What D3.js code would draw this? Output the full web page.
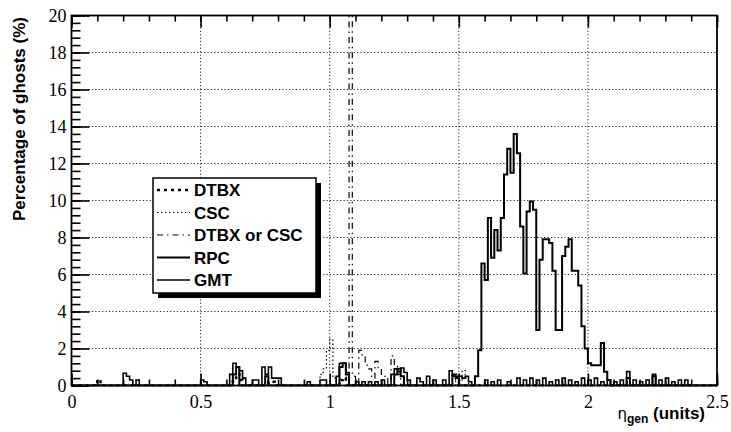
<!DOCTYPE html>
<html><head><meta charset="utf-8">
<script src="https://cdn.jsdelivr.net/npm/d3@7"></script>
<style>body{margin:0;background:#fff} svg{display:block}</style>
</head><body>
<svg id="chart" width="731" height="432"></svg>
<script>
// ---------------- data ----------------
const xTicks = [0, 0.5, 1, 1.5, 2, 2.5];
const xTickLabels = ["0", "0.5", "1", "1.5", "2", "2.5"];
const yTicks = [0, 2, 4, 6, 8, 10, 12, 14, 16, 18, 20];
const yTickLabels = ["0", "2", "4", "6", "8", "10", "12", "14", "16", "18", "20"];
const seriesNames = ["DTBX", "CSC", "DTBX or CSC", "RPC", "GMT"];
const binWidth = 0.0125;   // 200 bins over 0 - 2.5
const nBins = 200;

const dtbxEta = [0.1, 0.625, 0.6375, 0.65, 0.7625, 0.775, 1.0375, 1.05];
const dtbxVal = [0.3, 0.3, 0.6, 0.3, 0.2, 0.2, 0.3, 0.4];

const cscEta = [0.9625, 0.975, 0.9875, 1.0, 1.0125, 1.4875, 1.5, 1.5125, 1.525];
const cscVal = [0.6, 0.9, 1.9, 2.5, 0.4, 0.6, 0.5, 0.8, 0.4];

const orEta = [1.075, 1.0875, 1.1125, 1.125, 1.1375, 1.15, 1.1625, 1.175, 1.1875, 1.2, 1.2125, 1.2375, 1.25, 1.2625, 1.4875, 1.5];
const orVal = [32, 0.5, 1.9, 1.6, 1.1, 0.9, 0.4, 1.3, 0.9, 0.6, 0.5, 1.6, 1.1, 0.6, 0.4, 0.3];

const rpcEta = [0.625, 0.6375, 0.75, 1.0375, 1.05, 1.0625, 1.25, 1.2625, 1.275, 1.475, 1.4875,
  1.5625, 1.575, 1.5875, 1.6, 1.6125, 1.625, 1.6375, 1.65, 1.6625, 1.675,
  1.6875, 1.7, 1.7125, 1.725, 1.7375, 1.75, 1.7625, 1.775, 1.7875, 1.8,
  1.8125, 1.825, 1.8375, 1.85, 1.8625, 1.875, 1.8875, 1.9, 1.9125, 1.925,
  1.9375, 1.95, 1.9625, 1.975, 1.9875, 2.0, 2.0125, 2.025, 2.0375, 2.05,
  2.0625, 2.075, 2.15, 2.25];
const rpcVal = [0.6, 1.0, 0.5, 1.0, 1.2, 0.6, 0.6, 0.9, 0.5, 0.6, 0.4,
  0.5, 1.9, 6.6, 5.7, 9.05, 6.9, 8.4, 7.3, 9.05, 11.4,
  12.8, 11.5, 13.6, 12.55, 8.6, 6.06, 9.4, 9.94, 9.5, 3.0,
  6.8, 7.9, 7.9, 7.7, 6.2, 3.0, 3.0, 7.0, 7.5, 7.9,
  6.2, 6.2, 5.4, 3.2, 2.0, 1.2, 1.1, 1.1, 1.1, 2.3,
  0.75, 0.3, 0.4, 0.5];

const gmtEta = [0.2, 0.2125, 0.225, 0.25, 0.5, 0.5125, 0.6125, 0.625, 0.6375, 0.65,
  0.6625, 0.7, 0.7125, 0.7375, 0.75, 0.7625, 0.775, 0.7875, 0.8, 0.9125,
  0.9625, 0.975, 1.025, 1.0375, 1.05, 1.0625, 1.1, 1.125, 1.15, 1.175,
  1.2, 1.2375, 1.25, 1.2625, 1.275, 1.2875, 1.3, 1.3375, 1.35, 1.375,
  1.4, 1.4375, 1.4625, 1.475, 1.4875, 1.5, 1.5125, 1.525, 1.5375, 1.6,
  1.625, 1.65, 1.6875, 1.725, 1.75, 1.775, 1.8, 1.825, 1.85, 1.875,
  1.9, 1.925, 1.95, 1.975, 2.0, 2.025, 2.05, 2.075, 2.1, 2.125,
  2.15, 2.175, 2.2, 2.225, 2.25, 2.275, 2.3, 2.325, 2.35, 2.375];
const gmtVal = [0.66, 0.5, 0.3, 0.3, 0.3, 0.2, 0.6, 1.2, 1.0, 0.8,
  0.4, 0.3, 0.3, 1.0, 0.6, 1.0, 0.4, 0.4, 0.4, 0.2,
  0.3, 0.3, 0.5, 1.2, 1.2, 0.7, 0.2, 0.2, 0.2, 0.2,
  0.3, 0.6, 0.9, 0.75, 0.95, 0.7, 0.3, 0.4, 0.2, 0.5,
  0.3, 0.3, 0.8, 0.5, 0.5, 0.5, 0.4, 0.5, 0.2, 0.3,
  0.2, 0.3, 0.2, 0.4, 0.3, 0.4, 0.3, 0.4, 0.2, 0.3,
  0.4, 0.3, 0.2, 0.4, 0.3, 0.4, 0.2, 0.3, 0.2, 0.3,
  0.75, 0.3, 0.2, 0.3, 0.6, 0.3, 0.4, 0.2, 0.3, 0.3];

// ---------------- drawing ----------------
const svg = d3.select("#chart");
const x = d3.scaleLinear().domain([0, 2.5]).range([71.5, 717]);
const y = d3.scaleLinear().domain([0, 20]).range([385.5, 15.5]);

const styles = {
  "DTBX":        {w: 2.6, dash: "3,4"},
  "CSC":         {w: 1.2, dash: "1.4,2.6"},
  "DTBX or CSC": {w: 1.2, dash: "6,4,1.5,4"},
  "RPC":         {w: 2.0, dash: null},
  "GMT":         {w: 1.6, dash: null}
};

function fillBins(etas, vals) {
  const arr = new Array(nBins).fill(0);
  d3.zip(etas, vals).forEach(([e, v]) => { arr[Math.round(e / binWidth)] = v; });
  return arr;
}
const histos = {
  "DTBX": fillBins(dtbxEta, dtbxVal),
  "CSC": fillBins(cscEta, cscVal),
  "DTBX or CSC": fillBins(orEta, orVal),
  "RPC": fillBins(rpcEta, rpcVal),
  "GMT": fillBins(gmtEta, gmtVal)
};

svg.append("defs").append("clipPath").attr("id", "plotclip")
  .append("rect").attr("x", x(0)).attr("y", y(20))
  .attr("width", x(2.5) - x(0)).attr("height", y(0) - y(20) + 1);

// grid
const grid = svg.append("g").attr("stroke", "#222").attr("stroke-width", 1)
  .attr("stroke-dasharray", "1.2,2.2");
grid.selectAll("line.gy").data(yTicks.filter(t => t > 0 && t < 20)).join("line")
  .attr("x1", x(0)).attr("x2", x(2.5)).attr("y1", d => y(d)).attr("y2", d => y(d));
grid.selectAll("line.gx").data(xTicks.filter(t => t > 0 && t < 2.5)).join("line")
  .attr("y1", y(0)).attr("y2", y(20)).attr("x1", d => x(d)).attr("x2", d => x(d));

// histograms
const line = d3.line().x(d => x(d[0])).y(d => y(d[1])).curve(d3.curveStepAfter);
const plot = svg.append("g").attr("clip-path", "url(#plotclip)");
["GMT", "DTBX", "CSC", "DTBX or CSC", "RPC"].forEach(name => {
  const h = histos[name];
  const pts = h.map((v, i) => [i * binWidth, v]);
  pts.push([2.5, h[nBins - 1]]);
  const s = styles[name];
  plot.append("path").attr("d", line(pts)).attr("fill", "none")
    .attr("stroke", "#000").attr("stroke-width", s.w)
    .attr("stroke-dasharray", s.dash).attr("stroke-linejoin", "miter");
});

// axes
const yMinor = d3.range(0, 20.001, 0.4);
const xMinor = d3.range(0, 2.5001, 0.1);
const tickFont = "'Liberation Serif', 'Times New Roman', serif";

const yAxisMinor = d3.axisLeft(y).tickValues(yMinor).tickSize(-9).tickFormat("");
const yAxisMajor = d3.axisLeft(y).tickValues(yTicks).tickSize(-18).tickPadding(5)
  .tickFormat((d, i) => yTickLabels[i]);
const gY1 = svg.append("g").attr("transform", `translate(${x(0)},0)`).call(yAxisMinor);
const gY2 = svg.append("g").attr("transform", `translate(${x(0)},0)`).call(yAxisMajor);

const xAxisMinorB = d3.axisBottom(x).tickValues(xMinor).tickSize(-6).tickFormat("");
const xAxisMajorB = d3.axisBottom(x).tickValues(xTicks).tickSize(-12).tickPadding(10)
  .tickFormat((d, i) => xTickLabels[i]);
const gX1 = svg.append("g").attr("transform", `translate(0,${y(0)})`).call(xAxisMinorB);
const gX2 = svg.append("g").attr("transform", `translate(0,${y(0)})`).call(xAxisMajorB);
const xAxisMinorT = d3.axisTop(x).tickValues(xMinor).tickSize(-6).tickFormat("");
const xAxisMajorT = d3.axisTop(x).tickValues(xTicks).tickSize(-12).tickFormat("");
const gX3 = svg.append("g").attr("transform", `translate(0,${y(20)})`).call(xAxisMinorT);
const gX4 = svg.append("g").attr("transform", `translate(0,${y(20)})`).call(xAxisMajorT);

[gY1, gY2, gX1, gX2, gX3, gX4].forEach(g => {
  g.select(".domain").remove();
  g.selectAll(".tick line").attr("stroke", "#000").attr("stroke-width", 1.6);
  g.selectAll("text").attr("fill", "#000").style("font-family", tickFont).style("font-size", "18px");
});

// frame
svg.append("rect").attr("x", x(0)).attr("y", y(20))
  .attr("width", x(2.5) - x(0)).attr("height", y(0) - y(20))
  .attr("fill", "none").attr("stroke", "#000").attr("stroke-width", 1.8);

// axis titles
const sansBold = "'Liberation Sans', Arial, Helvetica, sans-serif";
svg.append("text").attr("transform", `translate(25,17) rotate(-90)`)
  .attr("text-anchor", "end").style("font-family", sansBold)
  .style("font-weight", "bold").style("font-size", "17px")
  .text("Percentage of ghosts (%)");

const xt = svg.append("text").attr("x", 705).attr("y", 419).attr("text-anchor", "end")
  .style("font-family", sansBold).style("font-size", "17px");
xt.append("tspan").style("font-family", "'DejaVu Sans', sans-serif").style("font-size", "15px").text("η");
xt.append("tspan").attr("dy", 4).style("font-size", "12px").style("font-weight", "bold").text("gen");
xt.append("tspan").attr("dy", -4).style("font-weight", "bold").text(" (units)");

// legend
const lg = svg.append("g");
const lx = 153, ly = 178, lw = 163, lh = 115;
lg.append("rect").attr("x", lx + 5).attr("y", ly + 5).attr("width", lw).attr("height", lh).attr("fill", "#000");
lg.append("rect").attr("x", lx).attr("y", ly).attr("width", lw).attr("height", lh)
  .attr("fill", "#fff").attr("stroke", "#000").attr("stroke-width", 1.5);
const rowY = d3.scalePoint().domain(seriesNames).range([ly + 12, ly + 102]);
seriesNames.forEach(name => {
  const s = styles[name];
  lg.append("line").attr("x1", lx + 4).attr("x2", lx + 37)
    .attr("y1", rowY(name)).attr("y2", rowY(name))
    .attr("stroke", "#000").attr("stroke-width", s.w).attr("stroke-dasharray", s.dash);
  lg.append("text").attr("x", lx + 41).attr("y", rowY(name) + 6)
    .style("font-family", sansBold).style("font-weight", "bold").style("font-size", "17px")
    .text(name);
});
</script>
</body></html>
